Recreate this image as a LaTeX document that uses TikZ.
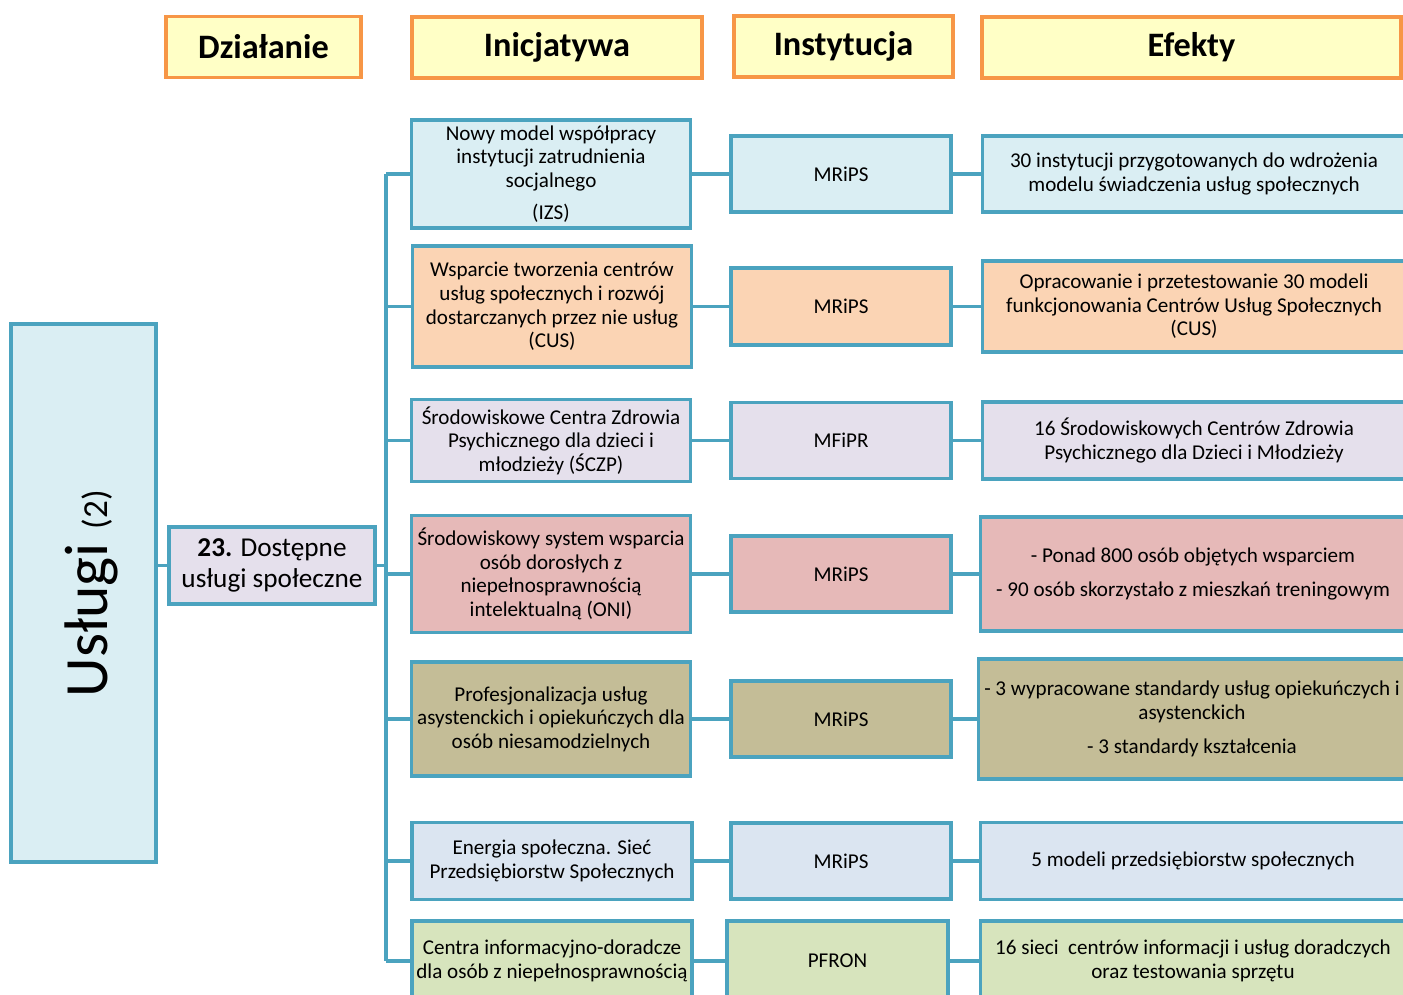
\documentclass[tikz,border=0pt]{standalone}
\usepackage{fontspec}
\setmainfont{Carlito}
\usetikzlibrary{positioning}
\definecolor{lnk}{HTML}{4BA3BF}
\definecolor{hdrline}{HTML}{F79646}
\definecolor{hdrfill}{HTML}{FFFFC6}
\definecolor{cblue}{HTML}{DAEEF3}
\definecolor{cpeach}{HTML}{FBD4B4}
\definecolor{clav}{HTML}{E5E0EC}
\definecolor{cpink}{HTML}{E6B9B8}
\definecolor{colive}{HTML}{C4BD97}
\definecolor{csteel}{HTML}{DBE5F1}
\definecolor{cgreen}{HTML}{D7E4BD}
\tikzset{
  headbox/.style={draw=hdrline, fill=hdrfill, line width=1.9pt, minimum height=1.22cm,
    font=\fontsize{19.5}{22}\selectfont\bfseries},
  cellbox/.style={draw=lnk, line width=1.9pt, align=center, inner sep=1pt,
    font=\fontsize{12}{13.4}\selectfont},
  link/.style={draw=lnk, line width=1.9pt}
}
\begin{document}
\begin{tikzpicture}
    %frame
    \useasboundingbox (0,0) rectangle (28.06,-19.9);
    % Headers
    \node[headbox, minimum width=3.9cm] (hdzial) at (5.27,-0.94) {Działanie};
    \node[headbox, minimum width=5.8cm] (hinic) at (11.14,-0.95) {Inicjatywa};
    \node[headbox, minimum width=4.38cm] (hinst) at (16.87,-0.93) {Instytucja};
    \node[headbox, minimum width=8.38cm] (hefekt) at (23.83,-0.95) {Efekty};
    % Left column
    \node[cellbox, fill=cblue, minimum width=2.9cm, minimum height=10.76cm] (uslugi) at (1.67,-11.86) {};
    \node[rotate=90, font=\fontsize{35}{38}\selectfont] (uslugitxt) at (1.83,-11.87) {Usługi {\fontsize{20}{22}\selectfont(2)}};
    \node[cellbox, fill=clav, minimum width=4.12cm, minimum height=1.54cm,
      font=\fontsize{15.5}{18}\selectfont] (dost) at (5.44,-11.31) {\textbf{23.} Dostępne\\usługi społeczne};
    % Inicjatywy
    \node[cellbox, fill=cblue, minimum width=5.58cm, minimum height=2.16cm] (in1) at (11.02,-3.48)
      {Nowy model współpracy\\instytucji zatrudnienia\\socjalnego\\[5pt](IZS)};
    \node[cellbox, fill=cpeach, minimum width=5.58cm, minimum height=2.42cm] (in2) at (11.04,-6.13)
      {Wsparcie tworzenia centrów\\usług społecznych i rozwój\\dostarczanych przez nie usług\\(CUS)};
    \node[cellbox, fill=clav, minimum width=5.58cm, minimum height=1.64cm] (in3) at (11.02,-8.81)
      {Środowiskowe Centra Zdrowia\\Psychicznego dla dzieci i\\młodzieży (ŚCZP)};
    \node[cellbox, fill=cpink, minimum width=5.58cm, minimum height=2.34cm] (in4) at (11.02,-11.48)
      {Środowiskowy system wsparcia\\osób dorosłych z\\niepełnosprawnością\\intelektualną (ONI)};
    \node[cellbox, fill=colive, minimum width=5.58cm, minimum height=2.28cm] (in5) at (11.02,-14.38)
      {Profesjonalizacja usług\\asystenckich i opiekuńczych dla\\osób niesamodzielnych};
    \node[cellbox, fill=csteel, minimum width=5.6cm, minimum height=1.54cm] (in6) at (11.04,-17.22)
      {Energia społeczna. Sieć\\Przedsiębiorstw Społecznych};
    \node[cellbox, fill=cgreen, minimum width=5.6cm, minimum height=1.6cm] (in7) at (11.04,-19.22)
      {Centra informacyjno-doradcze\\dla osób z niepełnosprawnością};
    % Instytucje
    \node[cellbox, fill=cblue, minimum width=4.4cm, minimum height=1.52cm] (is1) at (16.82,-3.48) {MRiPS};
    \node[cellbox, fill=cpeach, minimum width=4.4cm, minimum height=1.54cm] (is2) at (16.82,-6.13) {MRiPS};
    \node[cellbox, fill=clav, minimum width=4.4cm, minimum height=1.52cm] (is3) at (16.82,-8.81) {MFiPR};
    \node[cellbox, fill=cpink, minimum width=4.4cm, minimum height=1.52cm] (is4) at (16.82,-11.48) {MRiPS};
    \node[cellbox, fill=colive, minimum width=4.4cm, minimum height=1.52cm] (is5) at (16.82,-14.38) {MRiPS};
    \node[cellbox, fill=csteel, minimum width=4.4cm, minimum height=1.52cm] (is6) at (16.82,-17.22) {MRiPS};
    \node[cellbox, fill=cgreen, minimum width=4.42cm, minimum height=1.6cm] (is7) at (16.75,-19.22) {PFRON};
    % Efekty
    \node[cellbox, fill=cblue, minimum width=8.46cm, minimum height=1.52cm] (ef1) at (23.88,-3.48)
      {30 instytucji przygotowanych do wdrożenia\\modelu świadczenia usług społecznych};
    \node[cellbox, fill=cpeach, minimum width=8.46cm, minimum height=1.82cm] (ef2) at (23.88,-6.13)
      {Opracowanie i przetestowanie 30 modeli\\funkcjonowania Centrów Usług Społecznych\\(CUS)};
    \node[cellbox, fill=clav, minimum width=8.46cm, minimum height=1.54cm] (ef3) at (23.88,-8.81)
      {16 Środowiskowych Centrów Zdrowia\\Psychicznego dla Dzieci i Młodzieży};
    \node[cellbox, fill=cpink, minimum width=8.5cm, minimum height=2.28cm] (ef4) at (23.86,-11.48)
      {- Ponad 800 osób objętych wsparciem\\[6pt]- 90 osób skorzystało z mieszkań treningowym};
    \node[cellbox, fill=colive, minimum width=8.54cm, minimum height=2.4cm] (ef5) at (23.84,-14.38)
      {- 3 wypracowane standardy usług opiekuńczych i\\asystenckich\\[6pt]- 3 standardy kształcenia};
    \node[cellbox, fill=csteel, minimum width=8.5cm, minimum height=1.54cm] (ef6) at (23.86,-17.22)
      {5 modeli przedsiębiorstw społecznych};
    \node[cellbox, fill=cgreen, minimum width=8.5cm, minimum height=1.6cm] (ef7) at (23.86,-19.22)
      {16 sieci\ \ centrów informacji i usług doradczych\\oraz testowania sprzętu};
    % Connectors
    \coordinate (ttop) at (7.72,-3.48);
    \coordinate (tbot) at (7.72,-19.22);
    \draw[link] (ttop) -- (tbot);
    \draw[link] (uslugi.east |- dost) -- (dost);
    \draw[link] (dost.east) -- (dost.east -| ttop);
    \draw[link] (ttop) -- (in1);
    \draw[link] (in2.west -| ttop) -- (in2);
    \draw[link] (in3.west -| ttop) -- (in3);
    \draw[link] (in4.west -| ttop) -- (in4);
    \draw[link] (in5.west -| ttop) -- (in5);
    \draw[link] (in6.west -| ttop) -- (in6);
    \draw[link] (tbot) -- (in7);
    \draw[link] (in1) -- (is1);
    \draw[link] (in2) -- (is2);
    \draw[link] (in3) -- (is3);
    \draw[link] (in4) -- (is4);
    \draw[link] (in5) -- (is5);
    \draw[link] (in6) -- (is6);
    \draw[link] (in7) -- (is7);
    \draw[link] (is1) -- (ef1);
    \draw[link] (is2) -- (ef2);
    \draw[link] (is3) -- (ef3);
    \draw[link] (is4) -- (ef4);
    \draw[link] (is5) -- (ef5);
    \draw[link] (is6) -- (ef6);
    \draw[link] (is7) -- (ef7);
\end{tikzpicture}
\end{document}
